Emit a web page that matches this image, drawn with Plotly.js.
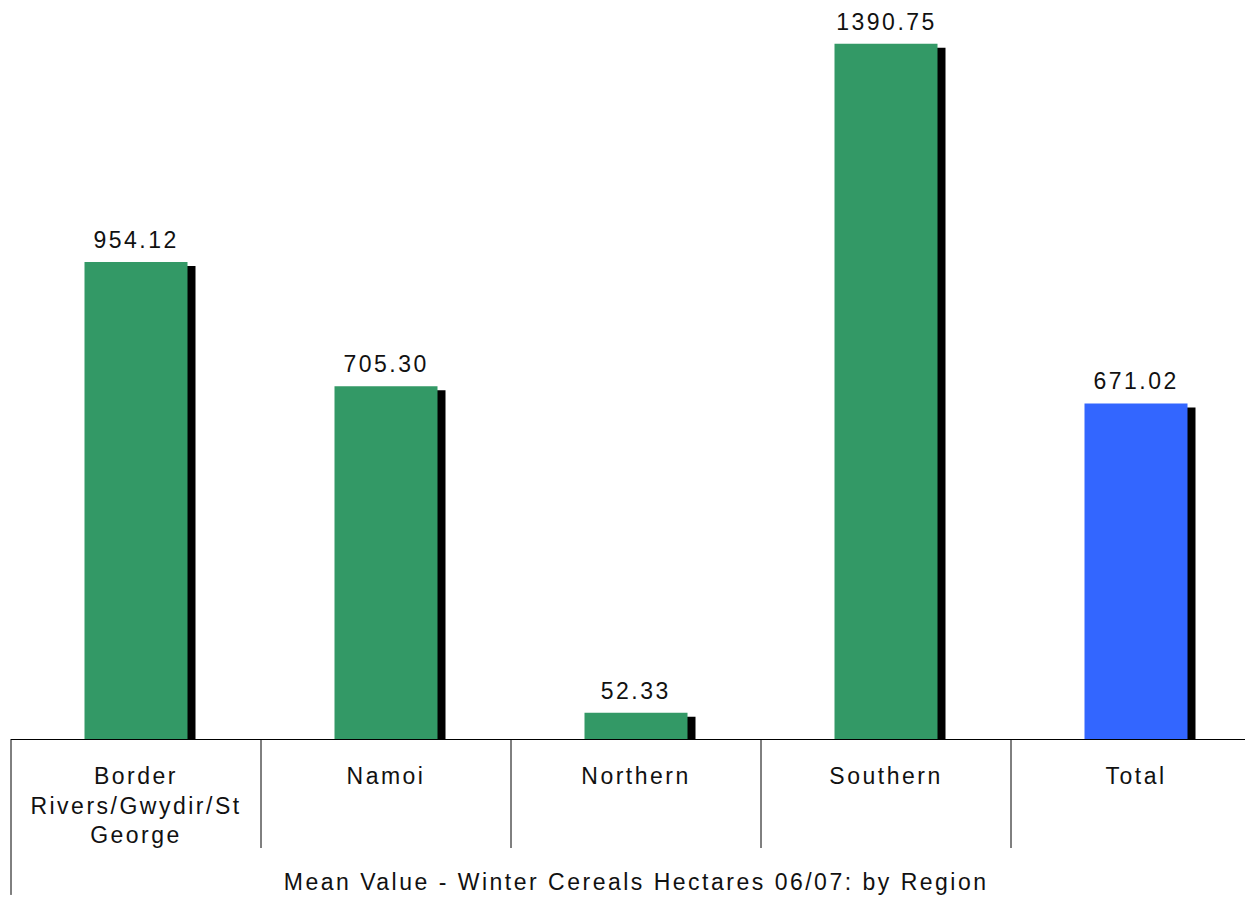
<!DOCTYPE html>
<html>
<head>
<meta charset="utf-8">
<script src="https://cdn.plot.ly/plotly-3.0.1.min.js"></script>
<style>
  html, body { margin: 0; padding: 0; background: #fff; overflow: hidden; }
  #chart { width: 1245px; height: 897px; }
  #chart svg text { letter-spacing: 2.5px; }
</style>
</head>
<body>
<div id="chart"></div>
<script>
const categories = ["Border<br>Rivers/Gwydir/St<br>George", "Namoi", "Northern", "Southern", "Total"];
const meanValues = [954.12, 705.30, 52.33, 1390.75, 671.02];
const barColors = ["#339966", "#339966", "#339966", "#339966", "#3366FF"];
const chartTitle = "Mean Value - Winter Cereals Hectares 06/07: by Region";

const idx = categories.map((_, i) => i);
const barW = 0.412;
const shadowShiftX = 0.032;   // ~8 px
const shadowDropY = 8;        // ~4 px in data units
const xMin = -0.5, xMax = 4.436;
const fontFam = '"Liberation Sans", Arial, sans-serif';
const fs = 23;

const shadow = {
  type: 'bar', x: idx, y: meanValues.map(v => v - shadowDropY),
  width: barW, offset: -barW / 2 + shadowShiftX,
  marker: { color: '#000', line: { width: 0 } },
  hoverinfo: 'skip', showlegend: false
};
const bars = {
  type: 'bar', x: idx, y: meanValues,
  width: barW, offset: -barW / 2,
  marker: { color: barColors, line: { width: 0 } },
  showlegend: false
};

const annotations = meanValues.map((v, i) => ({
  x: i, y: v, xref: 'x', yref: 'y', text: v.toFixed(2), showarrow: false,
  yanchor: 'bottom', yshift: 7, font: { family: fontFam, size: fs, color: '#111' }
}));
annotations.push({
  x: 2, xref: 'x', y: -0.193, yref: 'paper', text: chartTitle, showarrow: false,
  yanchor: 'middle', font: { family: fontFam, size: fs, color: '#111' }
});

const px = v => (v - xMin) / (xMax - xMin);
const shapes = [];
for (let i = 0; i < categories.length; i++) {
  shapes.push({
    type: 'line', xref: 'paper', yref: 'paper',
    x0: px(i - 0.5), x1: px(i - 0.5), y0: 0, y1: i === 0 ? -0.211 : -0.1475,
    line: { color: '#000', width: 1 }
  });
}

const layout = {
  width: 1245, height: 897,
  margin: { l: 11, r: 0, t: 0, b: 158, pad: 0 },
  paper_bgcolor: '#fff', plot_bgcolor: '#fff',
  barmode: 'overlay',
  xaxis: {
    type: 'linear', range: [xMin, xMax],
    tickvals: idx, ticktext: categories, ticks: '',
    ticklabelstandoff: 16,
    showline: true, linecolor: '#000', linewidth: 1,
    showgrid: false, zeroline: false,
    tickfont: { family: fontFam, size: fs, color: '#111' },
    fixedrange: true
  },
  yaxis: {
    range: [0, 1478], showgrid: false, zeroline: false,
    showticklabels: false, showline: false, ticks: '', fixedrange: true
  },
  annotations: annotations,
  shapes: shapes,
  showlegend: false
};

Plotly.newPlot('chart', [shadow, bars], layout, { displayModeBar: false, staticPlot: true });
</script>
</body>
</html>
